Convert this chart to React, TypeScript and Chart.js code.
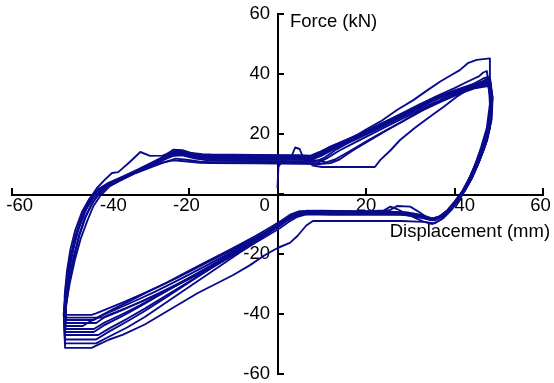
import React, { useEffect, useRef } from 'react';
import { Chart, registerables } from 'chart.js';

Chart.register(...registerables);

// ---- axis settings / tick labels ----
const xMin = -60;
const xMax = 60;
const yMin = -60;
const yMax = 60;
const tickStep = 20;
const xTickValues = [-60, -40, -20, 0, 20, 40, 60];
const xTickLabels = ['   -60', '     -40', '-20 ', '0     ', '20', '    40', '60 '];
const yTickValues = [-60, -40, -20, 0, 20, 40, 60];
const yTickLabels = ['-60', '-40', '-20', '', '20', '40', '60'];
const xTitle = 'Displacement (mm)';
const yTitle = 'Force (kN)';

// ---- hysteresis cycles: [displacement (mm), force (kN)] ----
const cycle1: number[][] = [[0,2],[0.2,9],[1,11],[3,12],[4,15.5],[5,15],[6,11.5],[8,9.5],[10,9],[16,9],[22,9],[23.2,11.3],[25.5,14.5],[27.7,18],[31,22],[34.5,25.8],[37.5,29],[40.5,32.4],[43,34.8],[45.8,37],[47.5,38.5],[48.2,37],[48.4,30],[47.6,22],[46.3,15],[44.8,9],[43.2,3.5],[41.5,-1],[39.5,-5],[37.5,-8],[35.5,-9.8],[33,-9.3],[28,-9],[22,-9],[15,-9],[8,-9],[6.5,-10.5],[4.5,-14],[2.8,-16.3],[0,-18],[-3,-20.5],[-6.2,-23.7],[-10,-27],[-14,-30],[-18,-33],[-22,-36.5],[-26,-40],[-30,-43.5],[-34.9,-46.9],[-38,-48.5],[-40.6,-50.3],[-42,-51.3],[-48,-51.3],[-48.3,-40],[-47.8,-30],[-46.8,-22],[-45.6,-14],[-44.2,-7],[-42.6,-2],[-40.8,2],[-39,4.8],[-37.4,7],[-36,7.3],[-33.5,10.5],[-31,14],[-28.8,12.7],[-26,12.8],[-23.5,14.2],[-21,13.8],[-18,12.6],[-15,12.2]];
const cycle2: number[][] = [[-15,12.8],[-5,12.6],[5,12.5],[8,12.3],[10,13.8],[13,16],[17,18.8],[20,21.5],[23.2,24.1],[27,28],[30.7,31.3],[33.5,34.2],[36.7,37.4],[39,39.4],[41.2,41.3],[43,43.6],[45,44.7],[48,45.2],[48,39],[48.6,32],[48,24],[46.8,16],[45.3,10],[43.8,5],[42.2,1],[40.6,-2.5],[39,-5.5],[37,-8.5],[35,-10],[33,-9.2],[30,-7.2],[27,-5],[25.5,-4.2],[24,-5.5],[18,-6],[10,-6],[5,-6.3],[3,-7.5],[1,-9.5],[-2,-13],[-6,-17],[-10,-21],[-14,-25],[-18,-29],[-22,-33],[-26,-37],[-30,-41],[-34,-44.5],[-38,-47.5],[-41,-49.8],[-48,-49.8],[-48.3,-40],[-47.7,-30],[-46.8,-22],[-45.6,-14],[-44,-7],[-42.2,-2],[-40.3,1],[-37.5,3.8],[-34,6],[-30,8.5],[-26.5,11.8],[-23.5,14.8],[-21.5,14.6],[-18.5,13.2],[-15,12.8]];
const cycle3: number[][] = [[-15,13.2],[-5,13],[5,12.9],[7.5,12.8],[9.5,14],[12,15.8],[16,18.2],[20,20.8],[24,23.8],[28,26.8],[32,29.8],[36,32.6],[40,35.3],[43,37.5],[45.5,39.2],[46.5,40.5],[47.3,41],[47.8,36],[48,30],[47.3,22],[46,15.5],[44.6,9.5],[43,4],[41.4,0],[39.8,-3.5],[37.8,-7],[35.5,-8.8],[33,-8],[30,-6.8],[25,-6.2],[15,-5.9],[7,-5.8],[4.5,-6.3],[2.5,-7.8],[0.5,-9.8],[-2,-12.3],[-6,-16.2],[-10,-20],[-14,-23.8],[-18,-27.6],[-22,-31.4],[-26,-35.2],[-30,-39],[-34,-42.5],[-38,-45.8],[-41,-48.5],[-48,-48.5],[-48.2,-40],[-47.7,-31],[-46.9,-23],[-45.8,-15],[-44.3,-8],[-42.6,-3],[-40.8,0.5],[-38,3.2],[-35,5.2],[-31.5,7.8],[-28,10.5],[-25,13],[-22.5,14.5],[-20,13.8],[-17,13.3],[-15,13.2]];
const cycle4: number[][] = [[-15,11.6],[-5,11.5],[5,11.4],[9,11.2],[11,10.5],[13,11.5],[16,14],[20,17.5],[24,20.8],[28,24],[32,27.5],[36,30.5],[40,33.5],[44,36.5],[46.5,38.5],[47.6,39],[48.2,34],[48.2,28],[47.2,20],[45.8,13.5],[44.2,7.5],[42.6,2.5],[41,-1],[39.3,-4.5],[37.2,-7.5],[35,-8.8],[32,-7.8],[28,-6.8],[20,-6.6],[10,-6.6],[5,-6.8],[3,-8],[1,-10],[-2,-12.8],[-6,-16.5],[-10,-20.2],[-14,-23.8],[-18,-27.4],[-22,-31],[-26,-34.6],[-30,-38.2],[-34,-41.6],[-38,-44.8],[-40.5,-47],[-48,-47],[-48,-40],[-47.2,-31],[-46.1,-22],[-44.8,-14],[-43.3,-7.5],[-41.7,-2.5],[-39.9,0.8],[-37.3,3.5],[-34.2,5.6],[-31,8],[-27.5,10.4],[-24.5,12.4],[-22,13.2],[-19,12.2],[-15,11.6]];
const cycle5: number[][] = [[-15,12.1],[-5,12],[5,11.9],[8,11.8],[10,13],[13,15.5],[16,17.6],[20,20.3],[24,23.2],[28,26.2],[32,29.2],[36,32],[40,34.3],[44,36.4],[46.8,37.8],[47.8,38.5],[48.5,33],[48.3,26],[47.2,19],[45.8,13],[44.2,7],[42.5,2],[40.8,-1.5],[39,-4.8],[37,-7.6],[35,-8.6],[32.5,-7.6],[29,-6.5],[24,-6.1],[15,-6.2],[6,-6.2],[4,-6.9],[2,-8.6],[0,-10.6],[-3,-13.3],[-7,-16.8],[-11,-20.3],[-15,-23.8],[-19,-27.2],[-23,-30.6],[-27,-34],[-31,-37.4],[-35,-40.6],[-39,-43.6],[-41.5,-46],[-48,-46],[-48.2,-39],[-47.8,-31],[-47,-24],[-46,-17],[-44.8,-11],[-43.2,-5],[-41.5,-1],[-39.5,2],[-36.5,4.3],[-33,6.6],[-29.5,9],[-26.5,11.3],[-24,13.2],[-22,13.6],[-19,12.6],[-15,12.1]];
const cycle6: number[][] = [[-15,11.1],[-5,11],[5,10.9],[8.5,10.8],[10.5,12],[13,14.6],[16,17],[20,19.8],[24,22.7],[28,25.8],[32,28.8],[36,31.6],[40,34],[44,36],[47,37.4],[48,38],[48.3,32],[47.9,25],[46.8,18],[45.3,12],[43.7,6],[42,1.2],[40.3,-2.2],[38.5,-5.3],[36.5,-7.8],[34.5,-8.5],[32,-6],[30,-4.2],[27,-4],[25.5,-5.3],[22,-6.3],[14,-6.4],[6,-6.4],[4,-7.1],[2,-8.9],[0,-11],[-3,-13.6],[-7,-17.1],[-11,-20.6],[-15,-24],[-19,-27.3],[-23,-30.6],[-27,-33.8],[-31,-37],[-35,-40],[-39,-42.8],[-41.5,-45],[-48,-45],[-47.9,-38],[-47,-30],[-45.8,-22],[-44.5,-15],[-43,-9],[-41.6,-4],[-40,-0.5],[-38,2.5],[-35.3,4.7],[-32.2,7],[-29,9.2],[-26,11.2],[-23.5,12.8],[-21.5,12.9],[-18.5,11.8],[-15,11.1]];
const cycle7: number[][] = [[-15,12.9],[-5,12.8],[5,12.7],[7.5,12.5],[9.5,13.8],[12,15.8],[16,18.4],[20,21],[24,23.9],[28,26.6],[32,29.3],[36,31.7],[40,33.7],[44,35.6],[46.6,36.9],[47.6,37.5],[48.2,31],[47.8,24],[46.6,17],[45,11],[43.4,5.5],[41.8,1],[40,-2.5],[38.2,-5.8],[36,-8],[34,-8.3],[31,-7.1],[27,-6.3],[20,-5.8],[10,-5.6],[5,-5.7],[3,-6.8],[1,-8.8],[-1.5,-11],[-5,-14],[-9,-17.2],[-13,-20.3],[-17,-23.3],[-21,-26.4],[-25,-29.5],[-29,-32.4],[-33,-35.4],[-37,-38.3],[-40,-40.6],[-42.5,-42.6],[-44,-44],[-48,-44],[-48.1,-38],[-47.6,-30],[-46.6,-21],[-45.3,-13],[-43.8,-6.5],[-42.2,-2],[-40.3,1.3],[-37.5,3.9],[-34,6.2],[-30.5,8.6],[-27.5,10.9],[-24.8,13.1],[-22.8,14],[-20,13.4],[-17,12.9],[-15,12.9]];
const cycle8: number[][] = [[-15,10.6],[-5,10.5],[5,10.4],[9,10.3],[11,11.8],[14,14.5],[17,16.8],[21,19.8],[25,22.8],[29,25.7],[33,28.5],[37,31.2],[41,33.6],[44.5,35.6],[47,36.6],[48,37],[48.5,31],[48.2,24],[47.2,17.5],[45.7,11.5],[44.1,6],[42.4,1.5],[40.6,-2],[38.8,-5],[36.8,-7.6],[34.8,-8.2],[32,-7],[28,-6.4],[20,-6.5],[12,-6.6],[6,-6.6],[4,-7.3],[2,-9],[0,-11.1],[-3,-13.8],[-7,-17.3],[-11,-20.7],[-15,-24],[-19,-27.2],[-23,-30.3],[-27,-33.2],[-31,-36],[-35,-38.6],[-39,-41],[-41,-43],[-48,-43],[-47.8,-36],[-47.1,-29],[-46.1,-21],[-44.9,-14],[-43.6,-8],[-42,-3.5],[-40.4,0],[-38.2,2.6],[-35.2,4.8],[-32,7],[-28.5,9],[-25.5,10.6],[-23,11.8],[-20.5,11.4],[-17.5,10.8],[-15,10.6]];
const cycle9: number[][] = [[-15,11.9],[-5,11.8],[5,11.7],[8,11.6],[10,12.8],[13,15.2],[17,18],[21,20.7],[25,23.5],[29,26.3],[33,29],[37,31.5],[41,33.7],[44.5,35.3],[47,36.2],[47.8,36.5],[48.4,30],[48,22],[46.8,15.5],[45.2,9.5],[43.6,4.5],[42,0.5],[40.2,-3],[38.3,-6.2],[36.2,-8.2],[34.2,-8.4],[31.5,-7.2],[27,-6.6],[20,-6.2],[12,-6.1],[5.5,-6],[3.5,-7],[1.5,-8.8],[-0.5,-10.8],[-4,-13.9],[-8,-17.3],[-12,-20.6],[-16,-23.8],[-20,-26.9],[-24,-29.9],[-28,-32.8],[-32,-35.5],[-36,-38.1],[-39.5,-40.4],[-41.5,-42],[-48,-42],[-48,-36],[-47.5,-28],[-46.6,-20],[-45.4,-13],[-44,-7],[-42.4,-2.5],[-40.6,0.7],[-38,3.2],[-35,5.4],[-31.5,7.7],[-28.2,10],[-25.3,12.2],[-23,13.3],[-20.5,12.9],[-17.5,12.1],[-15,11.9]];
const cycle10: number[][] = [[-15,10.3],[-5,10.2],[5,10.1],[9.5,10],[12,10.3],[14,11.5],[17,14.5],[21,18],[25,21.5],[29,24.8],[33,28],[37,30.8],[41,33.4],[44.5,35.2],[47.6,36],[48.3,31],[48.1,24],[47.1,17],[45.6,11],[44,5.5],[42.3,1],[40.5,-2.6],[38.6,-5.6],[36.6,-8],[34.6,-8.6],[32,-7.4],[28,-6.9],[20,-6.9],[12,-6.9],[6.5,-6.8],[4.5,-7.6],[2.5,-9.3],[0.5,-11.4],[-2.5,-14.1],[-6.5,-17.6],[-10.5,-20.9],[-14.5,-24.1],[-18.5,-27.2],[-22.5,-30.2],[-26.5,-33],[-30.5,-35.7],[-34.5,-38.2],[-37.5,-40],[-39.5,-41.2],[-48,-41.2],[-47.9,-35],[-47.2,-27],[-46.3,-19],[-45.2,-12.5],[-43.9,-6.5],[-42.4,-2],[-40.7,1],[-38.3,3.4],[-35.2,5.3],[-32,7.5],[-28.8,9.3],[-26,10.5],[-23.5,11.2],[-21,10.9],[-17.5,10.4],[-15,10.3]];
const cycle11: number[][] = [[-15,12.4],[-5,12.3],[5,12.2],[8,12],[10,13.3],[13,15.9],[16,17.9],[20,20.6],[24,23.6],[28,26.5],[32,29.5],[36,32.2],[40,34.5],[44,36.5],[46.8,37.5],[48,37.8],[48.6,32],[48.4,25],[47.4,18],[45.9,12],[44.3,6.5],[42.6,1.8],[40.8,-1.8],[39,-4.8],[37,-7.3],[35,-8.1],[32.5,-7],[29,-6.1],[22,-5.8],[14,-5.7],[6.5,-5.6],[4.5,-6.3],[2.5,-8],[0.5,-10],[-2.5,-12.5],[-6.5,-15.7],[-10.5,-18.8],[-14.5,-21.8],[-18.5,-24.8],[-22.5,-27.8],[-26.5,-30.6],[-30.5,-33.3],[-34.5,-35.9],[-38.5,-38.3],[-41,-39.8],[-42,-40.3],[-48,-40.3],[-48.1,-34],[-47.6,-26],[-46.8,-18.5],[-45.7,-12],[-44.2,-6],[-42.6,-1.8],[-40.8,1.3],[-38.2,3.7],[-35,5.8],[-31.5,8.2],[-28.2,10.6],[-25.5,12.6],[-23.2,14.3],[-21,14.1],[-18,12.9],[-15,12.4]];

const cycles = [cycle1, cycle2, cycle3, cycle4, cycle5, cycle6, cycle7, cycle8, cycle9, cycle10, cycle11];

const LINE_COLOR = 'rgb(10,10,140)';
const FONT_FAMILY = '"Liberation Sans", Arial, Helvetica, sans-serif';
const FONT_SIZE = 18.5;

const axisTitlePlugin = {
  id: 'axisTitles',
  beforeDatasetsDraw(chart: any) {
    const { ctx, scales } = chart;
    const xs = scales.x;
    const ys = scales.y;
    ctx.save();
    ctx.fillStyle = '#000';
    ctx.font = `${FONT_SIZE}px ${FONT_FAMILY}`;
    ctx.textBaseline = 'alphabetic';
    ctx.textAlign = 'left';
    ctx.fillText(yTitle, xs.getPixelForValue(2.8), ys.getPixelForValue(55.7));
    ctx.textAlign = 'right';
    ctx.fillText(xTitle, xs.getPixelForValue(61.6), ys.getPixelForValue(-14.2));
    ctx.restore();
  },
};

const zeroPadding = (scale: any) => {
  scale.paddingLeft = 0;
  scale.paddingRight = 0;
  scale.paddingTop = 0;
  scale.paddingBottom = 0;
};

export default function App() {
  const canvasRef = useRef<HTMLCanvasElement | null>(null);

  useEffect(() => {
    const canvas = canvasRef.current;
    if (!canvas) return;
    const chart = new Chart(canvas, {
      type: 'scatter',
      data: {
        datasets: cycles.map((c, i) => ({
          label: `cycle ${i + 1}`,
          data: c.map(([x, y]) => ({ x, y })),
          showLine: true,
          borderColor: LINE_COLOR,
          backgroundColor: LINE_COLOR,
          borderWidth: 1.9,
          borderJoinStyle: 'round',
          pointRadius: 0,
          pointHoverRadius: 0,
          tension: 0,
          fill: false,
        })),
      },
      options: {
        animation: false,
        responsive: false,
        maintainAspectRatio: false,
        events: [],
        layout: { padding: { left: 12, right: 11, top: 14, bottom: 9 } },
        plugins: {
          legend: { display: false },
          tooltip: { enabled: false },
          title: { display: false },
        },
        scales: {
          x: {
            type: 'linear',
            position: 'center',
            min: xMin,
            max: xMax,
            afterFit: zeroPadding,
            grid: {
              display: true,
              drawOnChartArea: false,
              drawTicks: true,
              tickLength: -8,
              tickWidth: 2,
              tickColor: '#000',
              lineWidth: 2,
              color: '#000',
            },
            border: { display: true, color: '#000', width: 2 },
            ticks: {
              stepSize: tickStep,
              autoSkip: false,
              maxRotation: 0,
              padding: 9,
              color: '#000',
              font: { family: FONT_FAMILY, size: FONT_SIZE },
              callback: (value: any) => {
                const i = xTickValues.indexOf(Number(value));
                return i >= 0 ? xTickLabels[i] : '';
              },
            },
          },
          y: {
            type: 'linear',
            position: 'center',
            min: yMin,
            max: yMax,
            afterFit: zeroPadding,
            grid: {
              display: true,
              drawOnChartArea: false,
              drawTicks: true,
              tickLength: -7,
              tickWidth: 2,
              tickColor: '#000',
              lineWidth: 2,
              color: '#000',
            },
            border: { display: true, color: '#000', width: 2 },
            ticks: {
              stepSize: tickStep,
              autoSkip: false,
              padding: 14.5,
              color: '#000',
              font: { family: FONT_FAMILY, size: FONT_SIZE },
              callback: (value: any) => {
                const i = yTickValues.indexOf(Number(value));
                return i >= 0 ? yTickLabels[i] : '';
              },
            },
          },
        },
      },
      plugins: [axisTitlePlugin],
    } as any);
    return () => chart.destroy();
  }, []);

  return (
    <div style={{ position: 'fixed', left: 0, top: 0, width: 554, height: 383, background: '#fff' }}>
      <canvas ref={canvasRef} width={554} height={383} style={{ width: 554, height: 383, display: 'block' }} />
    </div>
  );
}
